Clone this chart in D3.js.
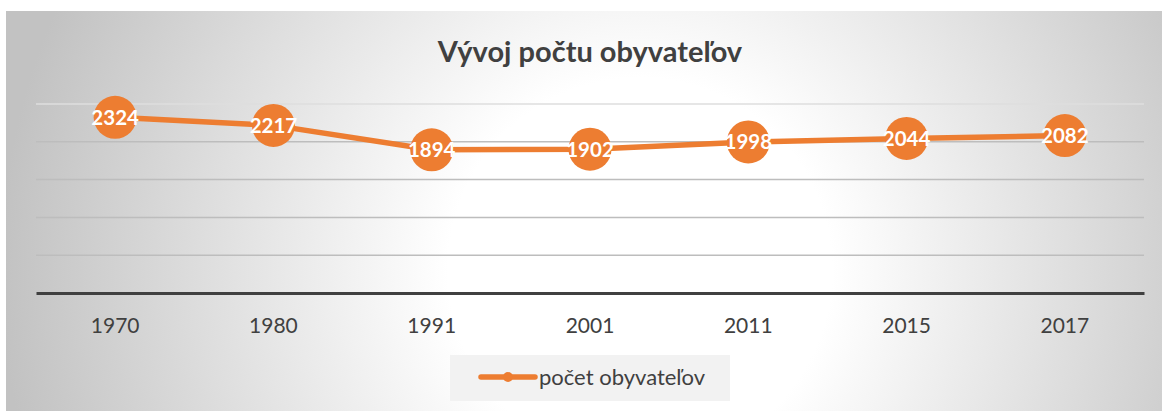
<!DOCTYPE html>
<html>
<head>
<meta charset="utf-8">
<script src="https://cdn.jsdelivr.net/npm/d3@7"></script>
<style>
  html, body { margin: 0; padding: 0; background: #fff; }
  svg { display: block; font-family: Lato, "Open Sans", sans-serif; }
  .axis-x text { fill: #404040; font-size: 21px; }
  .grid line { stroke: #bdbdbd; stroke-width: 1.5; }
</style>
</head>
<body>
<div id="chart"></div>
<script>
const years = ["1970", "1980", "1991", "2001", "2011", "2015", "2017"];
const population = [2324, 2217, 1894, 1902, 1998, 2044, 2082];
const yTicks = [500, 1000, 1500, 2000, 2500];
const title = "Vývoj počtu obyvateľov";
const seriesName = "počet obyvateľov";

const W = 1162, H = 411;
const margin = { top: 104, bottom: 118, left: 36, right: 18 };
const orange = "#ed7d31";

const svg = d3.select("#chart").append("svg")
  .attr("width", W)
  .attr("height", H);

// radial background like the office chart style
const grad = svg.append("defs").append("radialGradient")
  .attr("id", "bg")
  .attr("gradientUnits", "userSpaceOnUse")
  .attr("cx", 640).attr("cy", 270).attr("r", 640);
grad.append("stop").attr("offset", "0").attr("stop-color", "#ffffff");
grad.append("stop").attr("offset", "0.3").attr("stop-color", "#ffffff");
grad.append("stop").attr("offset", "1").attr("stop-color", "#c2c2c2");

svg.append("rect")
  .attr("x", 6).attr("y", 11)
  .attr("width", W - 6).attr("height", H - 11)
  .attr("fill", "url(#bg)");

const data = years.map((y, i) => ({ year: y, value: population[i] }));

const x = d3.scaleBand().domain(years).range([margin.left, W - margin.right]);
const y = d3.scaleLinear().domain([0, 2500]).range([H - margin.bottom, margin.top]);
const cx = d => x(d.year) + x.bandwidth() / 2;

svg.append("text")
  .attr("x", (margin.left + W - margin.right) / 2)
  .attr("y", 62)
  .attr("text-anchor", "middle")
  .attr("fill", "#404040")
  .style("font-size", "29px")
  .style("font-weight", "bold")
  .text(title);

svg.append("g")
  .attr("class", "grid")
  .selectAll("line")
  .data(yTicks)
  .enter().append("line")
  .attr("x1", margin.left).attr("x2", W - margin.right)
  .attr("y1", d => y(d)).attr("y2", d => y(d))
  .style("stroke", d => d === 2500 ? "#dedede" : null);

const xAxis = svg.append("g")
  .attr("class", "axis-x")
  .attr("transform", `translate(0,${y(0)})`)
  .call(d3.axisBottom(x).tickSize(0).tickPadding(25));
xAxis.select(".domain").attr("stroke", "#404040").attr("stroke-width", 3);
xAxis.selectAll("text").style("font-family", "Lato, sans-serif");

const line = d3.line()
  .x(cx)
  .y(d => y(d.value));

svg.append("path")
  .datum(data)
  .attr("fill", "none")
  .attr("stroke", orange)
  .attr("stroke-width", 5.5)
  .attr("stroke-linejoin", "round")
  .attr("d", line);

const pts = svg.selectAll(".pt")
  .data(data)
  .enter().append("g")
  .attr("class", "pt")
  .attr("transform", d => `translate(${cx(d)},${y(d.value)})`);

pts.append("circle")
  .attr("r", 21.5)
  .attr("fill", orange);

pts.append("text")
  .attr("text-anchor", "middle")
  .attr("dy", "0.36em")
  .attr("fill", "#fff")
  .style("font-size", "20.5px")
  .style("font-weight", "bold")
  .text(d => d.value);

// legend
const legend = svg.append("g").attr("transform", "translate(450,355)");
legend.append("rect")
  .attr("width", 280).attr("height", 46)
  .attr("fill", "#f2f2f2");
legend.append("line")
  .attr("x1", 31).attr("x2", 85)
  .attr("y1", 22).attr("y2", 22)
  .attr("stroke", orange).attr("stroke-width", 5.5)
  .attr("stroke-linecap", "round");
legend.append("circle")
  .attr("cx", 58).attr("cy", 22).attr("r", 5)
  .attr("fill", orange);
legend.append("text")
  .attr("x", 89).attr("y", 22)
  .attr("dy", "0.35em")
  .attr("fill", "#404040")
  .style("font-size", "22px")
  .text(seriesName);
</script>
</body>
</html>
